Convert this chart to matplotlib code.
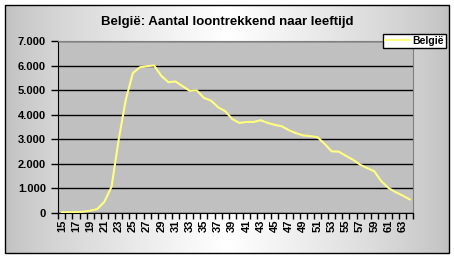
import numpy as np
import matplotlib
matplotlib.use("Agg")
import matplotlib.pyplot as plt
from matplotlib.patches import Rectangle
from matplotlib.ticker import FuncFormatter

plt.rcParams['font.family'] = ['Liberation Sans', 'DejaVu Sans']

# leeftijden en aantal loontrekkenden
leeftijd = list(range(15, 65))
aantal = [20, 20, 25, 40, 80, 150, 450, 1060, 2970, 4600,
          5690, 5930, 5975, 6000, 5580, 5320, 5350, 5160, 4970, 4990,
          4680, 4570, 4300, 4140, 3820, 3660, 3700, 3700, 3770, 3660,
          3580, 3520, 3360, 3240, 3150, 3120, 3080, 2810, 2500, 2490,
          2320, 2160, 1960, 1820, 1690, 1280, 1010, 840, 700, 540]
tick_labels = [str(a) if (a - 15) % 2 == 0 else "" for a in leeftijd]

W, H = 454, 260
fig = plt.figure(figsize=(W / 100, H / 100), dpi=100)
fig.patch.set_facecolor("white")

# achtergrond met verloop (grijs - wit - grijs)
bg = fig.add_axes([5 / W, 7 / H, 444 / W, 248 / H], zorder=0)
t = np.linspace(0, 1, 200)
grad = 0.76 + 0.24 * (1 - np.abs(t - 0.5) * 2) ** 0.8
bg.imshow(np.dstack([grad, grad, grad]), aspect="auto", extent=[0, 1, 0, 1])
bg.set_axis_off()
fig.add_artist(Rectangle((5 / W, 7 / H), 444 / W, 248 / H, transform=fig.transFigure,
                         fill=False, edgecolor="black", lw=1, zorder=5))

ax = fig.add_axes([58.3 / W, 1 - 212.7 / H, 355 / W, 171.7 / H], zorder=2)
ax.set_facecolor("#c0c0c0")
x = np.arange(len(leeftijd))
ax.plot(x, aantal, color="#ffff80", lw=1.5, label="België", zorder=3)
ax.set_xlim(-0.5, len(leeftijd) - 0.5)
ax.set_ylim(0, 7000)
ax.set_yticks(range(0, 7001, 1000))
ax.yaxis.set_major_formatter(FuncFormatter(lambda v, p: f"{int(v):,}".replace(",", ".")))
ax.grid(axis="y", color="black", lw=1)
ax.set_axisbelow(True)

ax.set_xticks(x)
ax.set_xticklabels(tick_labels, rotation=90, fontsize=8, fontweight="bold")
ax.set_xticks(np.arange(-0.5, len(leeftijd)), minor=True)
ax.tick_params(axis="x", which="major", length=0, pad=5)
ax.tick_params(axis="x", which="minor", length=4, color="black", width=1)
ax.tick_params(axis="y", length=5, color="black", width=1, pad=4)
for lab in ax.get_yticklabels():
    lab.set_fontweight("bold")
    lab.set_fontsize(8)

ax.spines["left"].set_color("black")
ax.spines["bottom"].set_color("black")
ax.spines["top"].set_color("#808080")
ax.spines["right"].set_color("#808080")

fig.text(227 / W, 1 - 22 / H, "België: Aantal loontrekkend naar leeftijd",
         ha="center", va="center", fontsize=9.5, fontweight="bold")

leg = ax.legend(loc="upper right", bbox_to_anchor=(446 / W, 1 - 34 / H),
                bbox_transform=fig.transFigure, frameon=True, fancybox=False,
                edgecolor="black", framealpha=1, borderpad=0.2, borderaxespad=0,
                handlelength=2.4, handletextpad=0.2, prop={"weight": "bold", "size": 7.5})
leg.get_frame().set_linewidth(1)
leg.set_zorder(6)

fig.savefig("out.png", dpi=100)
